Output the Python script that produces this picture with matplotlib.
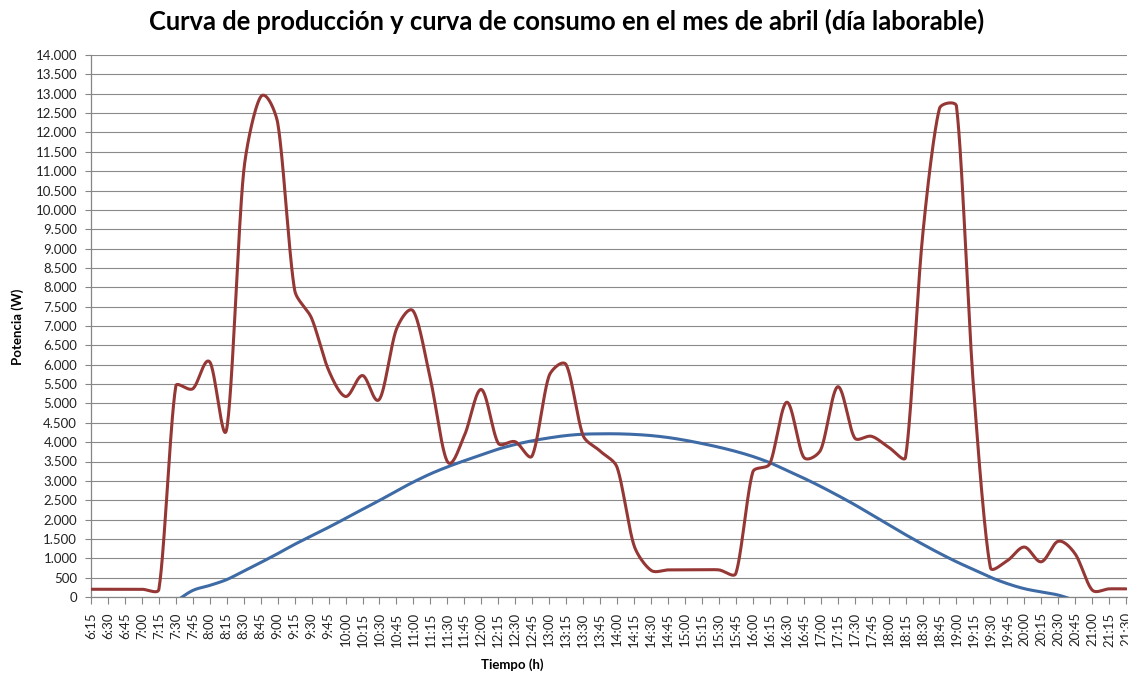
import numpy as np
import matplotlib
matplotlib.use("Agg")
import matplotlib.pyplot as plt
from matplotlib.ticker import FuncFormatter, MultipleLocator

plt.rcParams['font.family'] = ['Lato', 'DejaVu Sans']

# ---------------- data ----------------
times = ["6:15", "6:30", "6:45", "7:00", "7:15", "7:30", "7:45", "8:00", "8:15", "8:30",
         "8:45", "9:00", "9:15", "9:30", "9:45", "10:00", "10:15", "10:30", "10:45", "11:00",
         "11:15", "11:30", "11:45", "12:00", "12:15", "12:30", "12:45", "13:00", "13:15", "13:30",
         "13:45", "14:00", "14:15", "14:30", "14:45", "15:00", "15:15", "15:30", "15:45", "16:00",
         "16:15", "16:30", "16:45", "17:00", "17:15", "17:30", "17:45", "18:00", "18:15", "18:30",
         "18:45", "19:00", "19:15", "19:30", "19:45", "20:00", "20:15", "20:30", "20:45", "21:00",
         "21:15", "21:30"]

consumo = [200, 200, 200, 200, 200, 5450, 5380, 6070, 4350, 11000,
           12920, 12250, 7930, 7200, 5860, 5180, 5720, 5110, 6920, 7380,
           5630, 3500, 4170, 5360, 3970, 4010, 3650, 5720, 6000, 4170,
           3770, 3350, 1330, 690, 700, 700, 700, 700, 610, 3230,
           3440, 5030, 3610, 3800, 5430, 4110, 4150, 3870, 3610, 9300,
           12620, 12680, 5450, 760, 940, 1290, 910, 1440, 1110, 180,
           210, 210]

nan = np.nan
produccion = [nan, nan, nan, nan, nan, -110, 170, 300, 450, 670,
              890, 1120, 1360, 1580, 1800, 2030, 2265, 2495, 2740, 2970,
              3180, 3360, 3520, 3670, 3820, 3940, 4035, 4110, 4170, 4205,
              4215, 4215, 4200, 4170, 4120, 4050, 3965, 3870, 3760, 3630,
              3470, 3270, 3070, 2855, 2625, 2385, 2125, 1865, 1610, 1365,
              1130, 910, 710, 510, 345, 215, 130, 50, -90, nan,
              nan, nan]

title = "Curva de producción y curva de consumo en el mes de abril (día laborable)"
xlabel = "Tiempo (h)"
ylabel = "Potencia (W)"

# ---------------- figure ----------------
W, H = 1128, 675
fig = plt.figure(figsize=(W / 100, H / 100), dpi=100)
ax = fig.add_axes([91 / W, (H - 597) / H, 1036 / W, 542 / H])

n = len(times)
xs = np.arange(n)
ax.set_xlim(0, n - 1 + 0.05)
ax.set_ylim(0, 14000)


def excel_smooth(x, y, cap=1 / 3, steps=30):
    """Excel-like smoothed line: Bezier segments in display space."""
    x = np.asarray(x, float)
    y = np.asarray(y, float)
    ok = ~np.isnan(y)
    x, y = x[ok], y[ok]
    P = ax.transData.transform(np.column_stack([x, y]))
    m = len(P)
    T = np.zeros_like(P)
    for i in range(m):
        if i == 0:
            T[i] = (P[1] - P[0]) / 3
        elif i == m - 1:
            T[i] = (P[-1] - P[-2]) / 3
        else:
            T[i] = (P[i + 1] - P[i - 1]) / 6
    t = np.linspace(0, 1, steps)[:, None]
    out = [P[:1]]
    for i in range(m - 1):
        L = np.hypot(*(P[i + 1] - P[i]))
        a = T[i]
        na = np.hypot(*a)
        if na > L * cap:
            a = a * (L * cap / na)
        b = T[i + 1]
        nb = np.hypot(*b)
        if nb > L * cap:
            b = b * (L * cap / nb)
        c1 = P[i] + a
        c2 = P[i + 1] - b
        seg = ((1 - t) ** 3) * P[i] + 3 * ((1 - t) ** 2) * t * c1 + 3 * (1 - t) * t ** 2 * c2 + t ** 3 * P[i + 1]
        out.append(seg[1:])
    pts = np.vstack(out)
    data = ax.transData.inverted().transform(pts)
    return data[:, 0], data[:, 1]


# gridlines
ax.yaxis.set_major_locator(MultipleLocator(500))
ax.grid(axis='y', color='#8a8a8a', linewidth=0.8)
ax.set_axisbelow(True)

bx, by = excel_smooth(xs, produccion)
ax.plot(bx, by, color='#3E6BA5', linewidth=2.2, solid_capstyle='round', zorder=3)
rx, ry = excel_smooth(xs, consumo)
ax.plot(rx, ry, color='#953735', linewidth=2.2, solid_capstyle='round', zorder=4)

# axes styling
for s in ['top', 'right']:
    ax.spines[s].set_visible(False)
for s in ['left', 'bottom']:
    ax.spines[s].set_color('#868686')
    ax.spines[s].set_linewidth(0.9)

ax.set_xticks(xs)
ax.set_xticklabels(times, rotation=90, fontsize=9.5, color='#222222')
ax.yaxis.set_major_formatter(FuncFormatter(lambda v, p: f"{int(round(v)):,}".replace(",", ".")))
ax.tick_params(axis='y', labelsize=9.5, colors='#222222', length=4, width=0.8, color='#868686', pad=6)
ax.tick_params(axis='x', length=5, width=0.8, color='#868686', pad=6)

fig.text(567 / W, 1 - 21 / H, title, ha='center', va='center', fontsize=18.4, fontweight='bold', color='black')
fig.text(512 / W, 1 - 665 / H, xlabel, ha='center', va='center', fontsize=9.5, fontweight='bold')
fig.text(18 / W, 1 - 327 / H, ylabel, ha='center', va='center', fontsize=9.5, fontweight='bold', rotation=90)

fig.savefig("out.png", dpi=100)
